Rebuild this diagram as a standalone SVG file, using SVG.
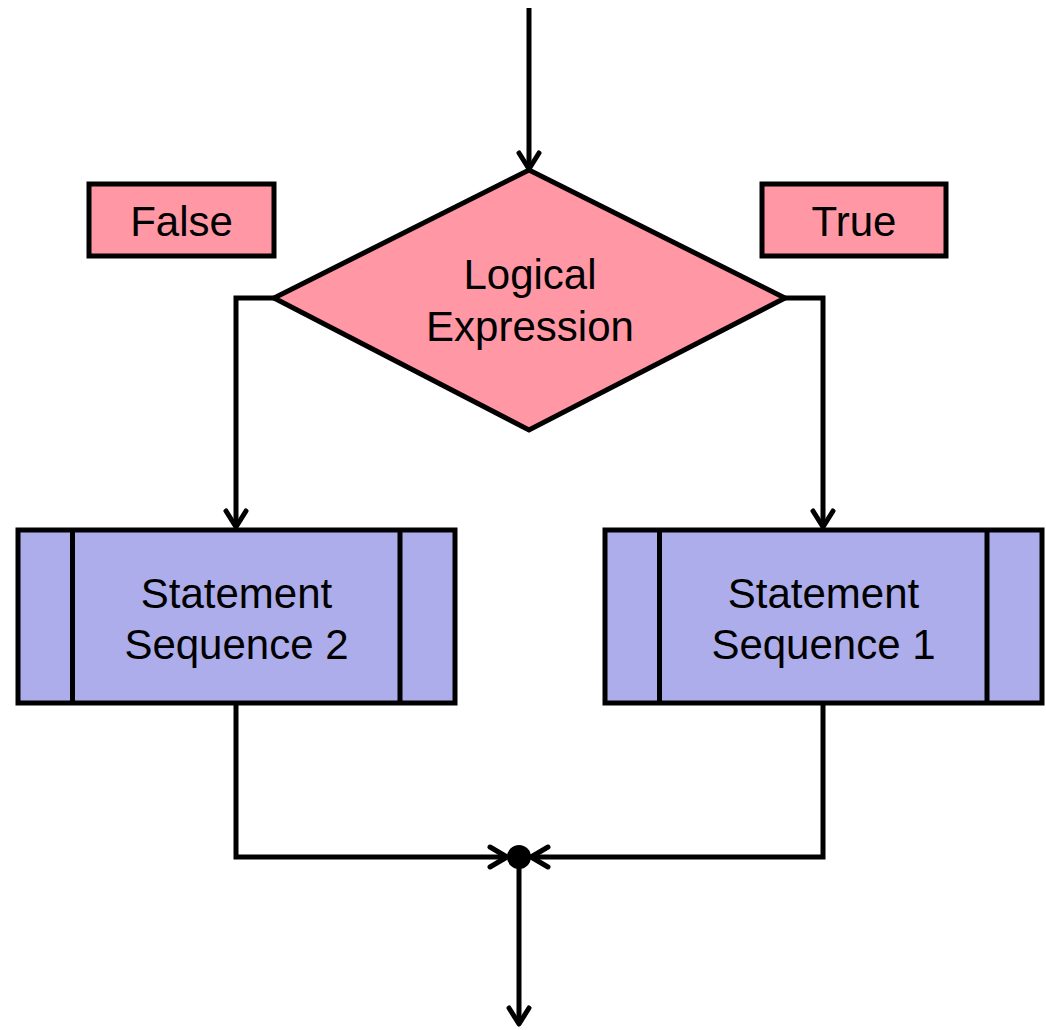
<svg xmlns="http://www.w3.org/2000/svg" width="1046" height="1030" viewBox="0 0 1046 1030">
<defs>
<style>
.ln{fill:none;stroke:#000;stroke-width:5;stroke-linejoin:miter}
.ah{fill:none;stroke:#000;stroke-width:5;stroke-linecap:round;stroke-linejoin:round}
.pink{fill:#FF97A5;stroke:#000;stroke-width:5}
.blue{fill:#ADADEB;stroke:#000;stroke-width:5}
.t{font-family:"Liberation Sans",Arial,sans-serif;font-size:42px;fill:#000;text-anchor:middle}
</style>
</defs>
<rect width="1046" height="1030" fill="#fff"/>
<g id="connectors">
<path class="ln" d="M529,8 V168"/>
<path class="ah" d="M519,153 L529,169 L539,153"/>
<path class="ln" d="M274,298 H236 V526"/>
<path class="ah" d="M226,511 L236,527 L246,511"/>
<path class="ln" d="M785,298 H823 V526"/>
<path class="ah" d="M813,511 L823,527 L833,511"/>
<path class="ln" d="M236,703 V857 H507"/>
<path class="ah" d="M490,847 L507,857 L490,867"/>
<path class="ln" d="M823,703 V857 H531"/>
<path class="ah" d="M548,847 L531,857 L548,867"/>
<path class="ln" d="M519,857 V1023"/>
<path class="ah" d="M509,1008 L519,1024 L529,1008"/>
<circle cx="519" cy="857" r="12" fill="#000"/>
</g>
<g id="false-label">
<rect class="pink" x="89" y="184" width="185" height="72"/>
<text class="t" x="181.5" y="236">False</text>
</g>
<g id="true-label">
<rect class="pink" x="762" y="184" width="184" height="72"/>
<text class="t" x="854" y="236">True</text>
</g>
<g id="decision">
<polygon class="pink" points="529,170 785,298 529,430 274,298"/>
<text class="t" x="530" y="289">Logical</text>
<text class="t" x="530" y="341">Expression</text>
</g>
<g id="seq2">
<rect class="blue" x="18" y="530" width="437" height="173"/>
<line class="ln" x1="72.5" y1="530" x2="72.5" y2="703"/>
<line class="ln" x1="400" y1="530" x2="400" y2="703"/>
<text class="t" x="236.5" y="608">Statement</text>
<text class="t" x="236.5" y="659">Sequence 2</text>
</g>
<g id="seq1">
<rect class="blue" x="605" y="530" width="437" height="173"/>
<line class="ln" x1="659.5" y1="530" x2="659.5" y2="703"/>
<line class="ln" x1="987" y1="530" x2="987" y2="703"/>
<text class="t" x="823.5" y="608">Statement</text>
<text class="t" x="823.5" y="659">Sequence 1</text>
</g>
</svg>
